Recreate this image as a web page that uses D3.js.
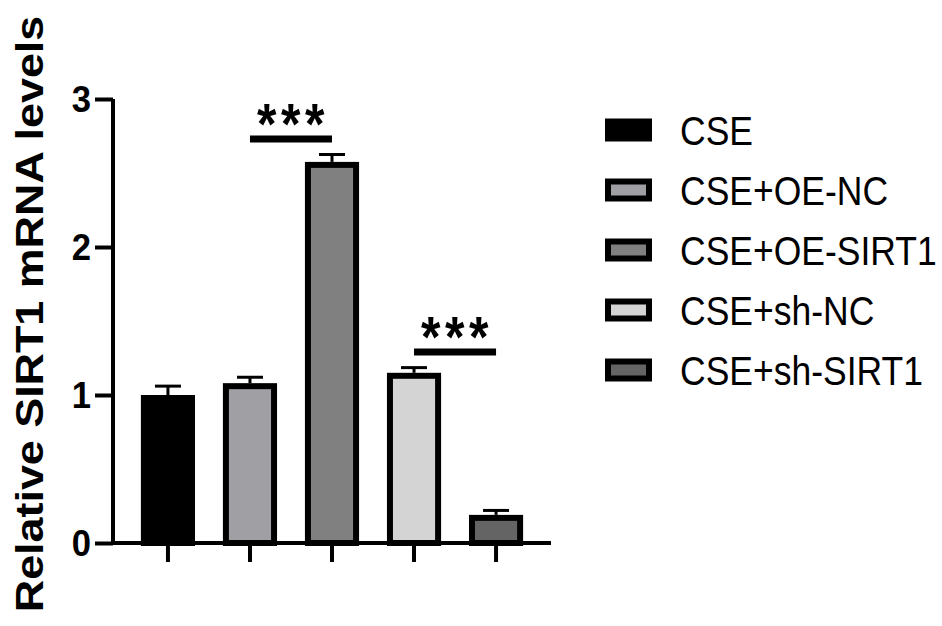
<!DOCTYPE html>
<html>
<head>
<meta charset="utf-8">
<script src="https://cdn.jsdelivr.net/npm/d3@7"></script>
<style>
  body { margin: 0; background: #fff; }
  svg { display: block; }
  text { font-family: "Liberation Sans", Arial, sans-serif; }
</style>
</head>
<body>
<svg id="chart" width="942" height="626"></svg>
<script>
const categories = ["CSE", "CSE+OE-NC", "CSE+OE-SIRT1", "CSE+sh-NC", "CSE+sh-SIRT1"];
const means = [1.0, 1.08, 2.575, 1.15, 0.19];
const errors = [0.06, 0.04, 0.05, 0.035, 0.03];
const fills = ["#000000", "#a0a0a4", "#808080", "#d4d4d4", "#646464"];
const yTicks = [0, 1, 2, 3];
const sigPairs = [[1, 2, "***", 2.73], [3, 4, "***", 1.29]];

const svg = d3.select("#chart");
const sy = 1.15; // vertical stretch of text

const y = d3.scaleLinear().domain([0, 3]).range([543, 99]);
const x = d3.scaleBand().domain(categories).range([113, 551]).paddingInner(0.34).paddingOuter(0.34);

// Bars
const bw = 6;
categories.forEach((c, i) => {
  const x0 = x(c), w = x.bandwidth();
  const top = y(means[i]), bot = y(0);
  const cx = x0 + w / 2;
  svg.append("line").attr("x1", cx).attr("x2", cx)
    .attr("y1", top).attr("y2", y(means[i] + errors[i]))
    .attr("stroke", "#000").attr("stroke-width", 3);
  svg.append("line").attr("x1", cx - 13).attr("x2", cx + 13)
    .attr("y1", y(means[i] + errors[i])).attr("y2", y(means[i] + errors[i]))
    .attr("stroke", "#000").attr("stroke-width", 3);
  svg.append("rect")
    .attr("x", x0 + bw / 2).attr("y", top + bw / 2)
    .attr("width", w - bw).attr("height", bot - top - bw / 2)
    .attr("fill", fills[i]).attr("stroke", "#000").attr("stroke-width", bw);
});

// Y axis
const yAxis = svg.append("g").attr("transform", "translate(113,0)")
  .call(d3.axisLeft(y).tickValues(yTicks).tickFormat(d3.format("d")).tickSize(18).tickPadding(4));
yAxis.select(".domain").attr("stroke-width", 4).attr("d", `M0,${y(3)}V${y(0)}`);
yAxis.selectAll(".tick line").attr("stroke-width", 4);
yAxis.selectAll(".tick text")
  .attr("font-size", 33).attr("font-weight", "bold")
  .attr("font-family", "Liberation Sans, Arial, sans-serif")
  .attr("fill", "#000")
  .attr("dy", null)
  .attr("dominant-baseline", "central")
  .attr("transform", `translate(-22,0) scale(1.05,1.1)`)
  .attr("x", 0)
  .attr("y", 0);

// X axis
const xAxis = svg.append("g").attr("transform", `translate(0,${y(0)})`)
  .call(d3.axisBottom(x).tickSize(19).tickFormat(""));
xAxis.select(".domain").attr("stroke-width", 4).attr("d", `M111,0H551`);
xAxis.selectAll(".tick line").attr("stroke-width", 4);

// Y label
svg.append("text")
  .attr("transform", `translate(43,${(13 + 615) / 2}) rotate(-90) scale(${sy},1)`)
  .attr("text-anchor", "middle")
  .attr("font-size", 39).attr("font-weight", "bold").attr("fill", "#000")
  .text("Relative SIRT1 mRNA levels");

// Significance
sigPairs.forEach(([a, b, label, v]) => {
  const xa = x(categories[a]) + x.bandwidth() / 2;
  const xb = x(categories[b]) + x.bandwidth() / 2;
  const yy = y(v);
  svg.append("line").attr("x1", xa).attr("x2", xb).attr("y1", yy).attr("y2", yy)
    .attr("stroke", "#000").attr("stroke-width", 7);
  svg.append("text")
    .attr("transform", `translate(${(xa + xb) / 2 + 2},${yy + 5}) scale(1,${sy})`)
    .attr("text-anchor", "middle")
    .attr("font-size", 50).attr("font-weight", "bold").attr("letter-spacing", 4.5)
    .attr("fill", "#000")
    .text(label);
});

// Legend
const legend = svg.append("g");
categories.forEach((c, i) => {
  const cy = 130 + i * 60;
  legend.append("rect")
    .attr("x", 605 + 3).attr("y", cy - 11.5 + 3)
    .attr("width", 47 - 6).attr("height", 23 - 6)
    .attr("fill", fills[i]).attr("stroke", "#000").attr("stroke-width", 6);
  legend.append("text")
    .attr("transform", `translate(680,${cy + 15}) scale(1,${sy})`)
    .attr("font-size", 35.5).attr("fill", "#000")
    .text(c);
});
</script>
</body>
</html>
